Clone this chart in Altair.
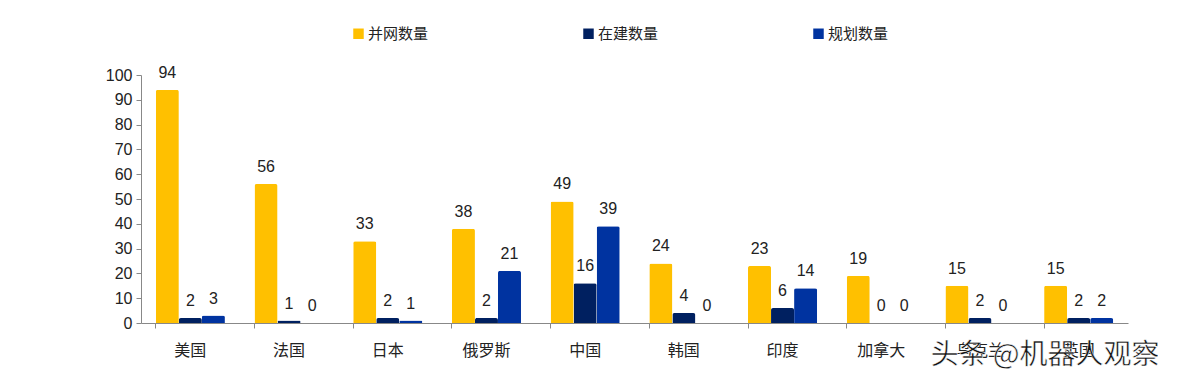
import altair as alt
import pandas as pd

countries = ["美国", "法国", "日本", "俄罗斯", "中国", "韩国", "印度", "加拿大", "乌克兰", "英国"]
series = ["并网数量", "在建数量", "规划数量"]
grid = [94, 56, 33, 38, 49, 24, 23, 19, 15, 15]
building = [2, 1, 2, 2, 16, 4, 6, 0, 2, 2]
planned = [3, 0, 1, 21, 39, 0, 14, 0, 0, 2]
colors = ["#FFC000", "#002060", "#0033A0"]
y_ticks = [0, 10, 20, 30, 40, 50, 60, 70, 80, 90, 100]

rows = []
for i, c in enumerate(countries):
    for s, vals in zip(series, [grid, building, planned]):
        rows.append({"country": c, "series": s, "value": vals[i]})
df = pd.DataFrame(rows)

FONT = "Noto Sans CJK SC"

x_axis = alt.Axis(title=None, labelAngle=0, labelFontSize=16, labelColor="#222",
                  labelFont=FONT, labelPadding=14, domainColor="#888",
                  tickColor="#888", tickSize=5, bandPosition=0)
y_axis = alt.Axis(title=None, values=y_ticks, tickCount=11, grid=False, labelFontSize=16,
                  labelOverlap=False, labelFlush=False,
                  labelColor="#222", labelFont="Liberation Sans", domainColor="#888",
                  tickColor="#888", tickSize=5, labelPadding=4)
x_scale = alt.Scale(paddingInner=0.3, paddingOuter=0.15)
y_scale = alt.Scale(domain=[0, 100], nice=False)

x_enc = alt.X("country:N", sort=countries, scale=x_scale, axis=x_axis)
xoff = alt.XOffset("series:N", sort=series)
y_enc = alt.Y("value:Q", scale=y_scale, axis=y_axis)
color_enc = alt.Color("series:N", sort=series,
                      scale=alt.Scale(domain=series, range=colors),
                      legend=alt.Legend(title=None, orient="none", direction="horizontal",
                                        legendX=210, legendY=-49, symbolType="square",
                                        symbolSize=110, symbolStrokeWidth=0,
                                        labelFontSize=15, labelFont=FONT, labelColor="#222",
                                        columnPadding=152, labelOffset=2))

bars = alt.Chart(df).mark_bar(cornerRadiusTopLeft=2, cornerRadiusTopRight=2).encode(
    x=x_enc, xOffset=xoff, y=y_enc, color=color_enc
)

labels = alt.Chart(df).mark_text(dy=-17, fontSize=16, font="Liberation Sans", color="#222").encode(
    x=alt.X("country:N", sort=countries, scale=x_scale, axis=x_axis),
    xOffset=xoff,
    y=alt.Y("value:Q", scale=y_scale, axis=y_axis),
    text="value:Q"
)

wm = pd.DataFrame({"t": ["头条 @机器人观察"]})
watermark = alt.Chart(wm).mark_text(fontSize=28, font=FONT, color="#111", stroke="white",
                                    strokeWidth=0.5).encode(
    x=alt.value(904), y=alt.value(281), text="t:N"
)

chart = alt.layer(bars, labels, watermark).properties(
    width=987, height=248,
    autosize=alt.AutoSizeParams(type="none"),
    padding={"left": 133, "top": 67, "right": 30, "bottom": 60},
).configure(background="white").configure_view(stroke=None, strokeWidth=0)

chart.save("out.html", embed_options={"renderer": "svg", "actions": False})
